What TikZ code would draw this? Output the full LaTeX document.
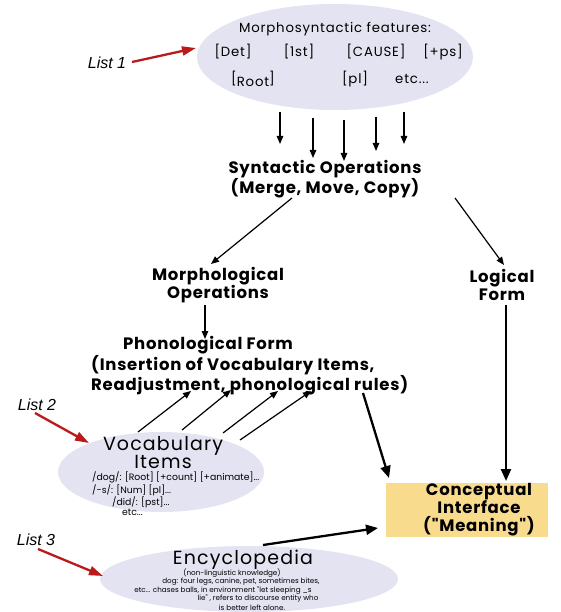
\documentclass[tikz,border=0pt]{standalone}
\usepackage{fontspec}
\setmainfont{Poppins}[Ligatures=TeXOff]
\newfontfamily\wideA{Poppins}[LetterSpace=4.5, Ligatures=TeXOff]
\newfontfamily\wideB{Poppins}[LetterSpace=6, Ligatures=TeXOff]
\newfontfamily\listfont{Liberation Sans}
\usetikzlibrary{arrows.meta,shapes.geometric}
\definecolor{lav}{HTML}{E4E3F1}
\definecolor{boxy}{HTML}{F9DB8D}
\definecolor{redarr}{HTML}{BB1A1A}
\tikzset{
  ell/.style={ellipse, fill=lav, draw=none, inner sep=0pt},
  thinarr/.style={line width=1.2pt, -{Triangle[length=8pt,width=6.5pt]}},
  thickarr/.style={line width=2.3pt, -{Triangle[length=12pt,width=10pt]}},
  redarrow/.style={redarr, line width=2.3pt, -{Triangle[length=14pt,width=9pt]}},
  head/.style={font=\wideA\bfseries\fontsize{16.5}{18}\selectfont, align=center, inner sep=0pt},
  feat/.style={font=\wideB\fontsize{13.3}{14}\selectfont, inner sep=0pt},
  listlab/.style={font=\listfont\itshape\fontsize{16}{18}\selectfont, inner sep=0pt},
  small/.style={font=\fontsize{7.2}{8}\selectfont, inner sep=0pt},
  vsmall/.style={font=\fontsize{9.3}{8.1}\selectfont, inner sep=0pt},
  big/.style={font=\wideB\fontsize{19}{16}\selectfont, inner sep=0pt}
}
\begin{document}
\begin{tikzpicture}[x=1pt,y=-1pt]
\useasboundingbox (0,0) rectangle (561,612);

% List 1 ellipse
\node[ell, minimum width=276pt, minimum height=106pt] (e1) at (335,57) {};
\node[feat] (msf) at (335,29) {Morphosyntactic features:};
\node[feat] (det) at (233,52) {[Det]};
\node[feat] (first) at (299,52) {[1st]};
\node[feat] (cause) at (376,52) {[CAUSE]};
\node[feat] (ps) at (443,52) {[+ps]};
\node[feat] (root) at (253,79) {[\raisebox{-3.5pt}{Root}]};
\node[feat] (pl) at (355,79) {[pl]};
\node[feat] (etc1) at (412,79) {etc...};

\node[listlab] (l1) at (107,63) {List 1};
\coordinate (l1s) at (132,62);
\coordinate (l1e) at (196,48);
\draw[redarrow] (l1s) -- (l1e);

% five arrows
\foreach \i/\x/\a/\b in {1/280/112/144, 2/313/118/158, 3/344/120/161, 4/376/117/151, 5/404/112/144}{
  \coordinate (fs\i) at (\x,\a);
  \coordinate (fe\i) at (\x,\b);
  \draw[thinarr] (fs\i) -- (fe\i);
}

% Syntactic
\node[head] (syn) at (325,179) {Syntactic Operations\\(Merge, Move, Copy)};
\node[head] (morph) at (218,285) {Morphological\\Operations};
\node[head] (lf) at (502,285) {Logical\\Form};

\coordinate (sm1) at (292,198);
\coordinate (sm2) at (211,264);
\draw[thinarr] (sm1) -- (sm2);
\coordinate (sl1) at (455,198);
\coordinate (sl2) at (504,265);
\draw[thinarr] (sl1) -- (sl2);

\coordinate (mp1) at (205,305);
\coordinate (mp2) at (205,339);
\draw[thinarr] (mp1) -- (mp2);

% Phonological form
\node[head, align=left, anchor=north west, font=\wideA\bfseries\fontsize{16.5}{18}\selectfont] (pf) at (91,336) {\hspace*{32pt}Phonological Form\\(Insertion of Vocabulary Items,\\Readjustment, phonological rules)};

% Vocabulary
\node[ell, minimum width=206pt, minimum height=80pt] (voc) at (161,472) {};
\node[big] (vocw) at (163,446) {Vocabulary};
\node[big] (itw) at (163,462) {Items};
\node[vsmall, align=left, anchor=north west] (voct) at (92,472) {/dog/: [Root] [+count] [+animate]...\\/-s/: [Num] [pl]...\\\hspace*{20pt}/did/: [pst]...\\\hspace*{30pt}etc...};

\foreach \i/\xa/\ya/\xb/\yb in {1/138/432/191/391, 2/182/430/231/390, 3/223/433/278/391, 4/240/440/311/391}{
  \coordinate (vs\i) at (\xa,\ya);
  \coordinate (ve\i) at (\xb,\yb);
  \draw[thinarr] (vs\i) -- (ve\i);
}

\node[listlab] (l2) at (37,405) {List 2};
\coordinate (l2s) at (35,413);
\coordinate (l2e) at (89,443);
\draw[redarrow] (l2s) -- (l2e);

% Conceptual interface
\node[fill=boxy, minimum width=162pt, minimum height=54pt, inner sep=0pt] (ci) at (467,510) {};
\node[head] (cit) at (479,510) {Conceptual\\Interface\\("Meaning")};

\coordinate (pc1) at (363,393);
\coordinate (pc2) at (389,478);
\draw[thickarr] (pc1) -- (pc2);
\coordinate (lc1) at (506,305);
\coordinate (lc2) at (506,481);
\draw[thickarr] (lc1) -- (lc2);

% Encyclopedia
\node[ell, minimum width=298pt, minimum height=66pt] (enc) at (249,579) {};
\node[big] (encw) at (243,560) {Encyclopedia};
\node[small] (en1) at (232,573) {(non-linguistic knowledge)};
\node[small] (en2) at (241,582) {dog: four legs, canine, pet, sometimes bites,};
\node[small] (en3) at (223,591) {etc... chases balls, in environment "let sleeping \_s};
\node[small] (en4) at (258,599) {lie" , refers to discourse entity who};
\node[small] (en5) at (252,608) {is better left alone.};

\coordinate (ec1) at (263,545);
\coordinate (ec2) at (378,528);
\draw[thickarr] (ec1) -- (ec2);

\node[listlab] (l3) at (36,540) {List 3};
\coordinate (l3s) at (38,549);
\coordinate (l3e) at (103,576);
\draw[redarrow] (l3s) -- (l3e);
\end{tikzpicture}
\end{document}
